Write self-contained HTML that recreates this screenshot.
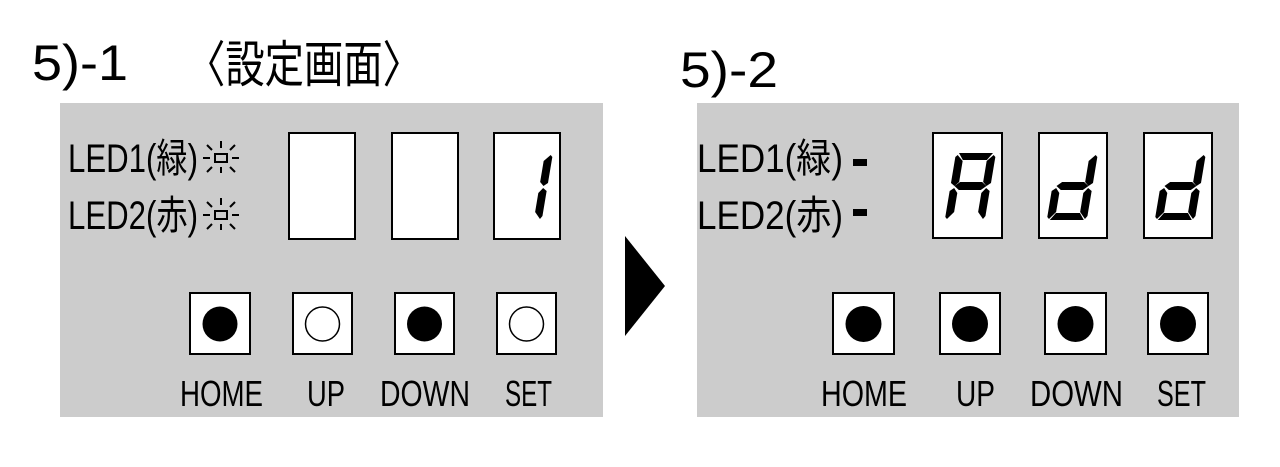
<!DOCTYPE html>
<html><head><meta charset="utf-8"><style>
html,body{margin:0;padding:0;background:#fff;}
svg{display:block;}
text{font-family:"Liberation Sans","Noto Sans CJK JP",sans-serif;fill:#000;}
</style></head><body>
<svg width="1280" height="467" viewBox="0 0 1280 467" xmlns="http://www.w3.org/2000/svg">
<defs>
<g id="sp" stroke="#000" stroke-width="2" fill="none">
  <rect x="-6" y="-3" width="12" height="8"/>
  <line x1="-18" y1="1" x2="-11" y2="1"/><line x1="11" y1="1" x2="18" y2="1"/>
  <line x1="0" y1="-16" x2="0" y2="-9"/>
  <line x1="-14" y1="-12" x2="-9" y2="-7"/><line x1="14" y1="-12" x2="9" y2="-7"/>
  <line x1="-14" y1="15" x2="-9" y2="10"/><line x1="14" y1="15" x2="9" y2="10"/>
  <line x1="0" y1="10" x2="0" y2="16"/>
</g>
<polygon id="sa" points="3,0 37,0 32,7 8,7"/>
<polygon id="sb" points="38,2 40,4 40,30 36,33 32,29 32,8"/>
<polygon id="sc" points="36,35 40,38 40,63 38,66 32,59 32,40"/>
<polygon id="sd" points="8,60 32,60 37,67 3,67"/>
<polygon id="se" points="4,35 8,40 8,59 2,66 0,64 0,38"/>
<polygon id="sf" points="2,2 8,8 8,29 4,33 0,30 0,4"/>
<polygon id="sg" points="4,33 9,29 31,29 36,33 31,37 9,37"/>
</defs>

<!-- titles -->
<text x="32" y="80" font-size="50" textLength="96" lengthAdjust="spacingAndGlyphs">5)-1</text>
<text x="186" y="82" font-size="50" textLength="236" lengthAdjust="spacingAndGlyphs">〈設定画面〉</text>
<text x="680" y="87" font-size="50" textLength="98" lengthAdjust="spacingAndGlyphs">5)-2</text>

<!-- left panel -->
<rect x="60" y="103" width="543" height="314" fill="#cccccc"/>
<text x="68" y="172" font-size="40" textLength="130" lengthAdjust="spacingAndGlyphs">LED1(緑)</text>
<text x="68" y="229" font-size="40" textLength="130" lengthAdjust="spacingAndGlyphs">LED2(赤)</text>
<use href="#sp" x="221" y="157"/>
<use href="#sp" x="221" y="214"/>
<g fill="#fff" stroke="#000" stroke-width="2">
<rect x="289" y="133" width="66" height="106"/>
<rect x="392" y="133" width="66" height="106"/>
<rect x="494" y="133" width="66" height="106"/>
<rect x="190" y="293" width="60" height="61"/>
<rect x="293" y="293" width="59" height="61"/>
<rect x="395" y="293" width="59" height="61"/>
<rect x="497" y="293" width="59" height="61"/>
</g>
<g transform="translate(513,153) skewX(-9.5)"><use href="#sb"/><use href="#sc"/></g>
<circle cx="220" cy="324" r="17.5" fill="#000"/>
<circle cx="322.5" cy="324" r="17" fill="#fff" stroke="#000" stroke-width="1.5"/>
<circle cx="424.5" cy="324" r="17.5" fill="#000"/>
<circle cx="526.5" cy="324" r="17" fill="#fff" stroke="#000" stroke-width="1.5"/>
<g font-size="36">
<text x="180" y="406" textLength="83" lengthAdjust="spacingAndGlyphs">HOME</text>
<text x="307" y="406" textLength="38" lengthAdjust="spacingAndGlyphs">UP</text>
<text x="380" y="406" textLength="90" lengthAdjust="spacingAndGlyphs">DOWN</text>
<text x="505" y="406" textLength="47" lengthAdjust="spacingAndGlyphs">SET</text>
</g>

<!-- arrow -->
<polygon points="625,236 665,286 625,336" fill="#000"/>

<!-- right panel -->
<rect x="697" y="103" width="542" height="314" fill="#cccccc"/>
<text x="697" y="172" font-size="40" textLength="146" lengthAdjust="spacingAndGlyphs">LED1(緑)</text>
<text x="697" y="229" font-size="40" textLength="146" lengthAdjust="spacingAndGlyphs">LED2(赤)</text>
<rect x="853" y="159" width="14" height="7" fill="#000"/>
<rect x="853" y="209" width="14" height="7" fill="#000"/>
<g fill="#fff" stroke="#000" stroke-width="2">
<rect x="933" y="133" width="69" height="105"/>
<rect x="1039" y="133" width="68" height="105"/>
<rect x="1144" y="133" width="68" height="105"/>
<rect x="833" y="293" width="61" height="61"/>
<rect x="940" y="293" width="60" height="61"/>
<rect x="1045" y="293" width="61" height="61"/>
<rect x="1148" y="293" width="60" height="61"/>
</g>
<g transform="translate(956,153) skewX(-9.5)"><use href="#sa"/><use href="#sb"/><use href="#sc"/><use href="#se"/><use href="#sf"/><use href="#sg"/></g>
<g transform="translate(1058,153) skewX(-9.5)"><use href="#sb"/><use href="#sc"/><use href="#sd"/><use href="#se"/><use href="#sg"/></g>
<g transform="translate(1166,153) skewX(-9.5)"><use href="#sb"/><use href="#sc"/><use href="#sd"/><use href="#se"/><use href="#sg"/></g>
<circle cx="863.5" cy="324" r="18" fill="#000"/>
<circle cx="970" cy="324" r="18" fill="#000"/>
<circle cx="1075.5" cy="324" r="18" fill="#000"/>
<circle cx="1178" cy="324" r="18" fill="#000"/>
<g font-size="36">
<text x="821" y="406" textLength="86" lengthAdjust="spacingAndGlyphs">HOME</text>
<text x="956" y="406" textLength="39" lengthAdjust="spacingAndGlyphs">UP</text>
<text x="1030" y="406" textLength="93" lengthAdjust="spacingAndGlyphs">DOWN</text>
<text x="1157" y="406" textLength="49" lengthAdjust="spacingAndGlyphs">SET</text>
</g>
</svg>
</body></html>
